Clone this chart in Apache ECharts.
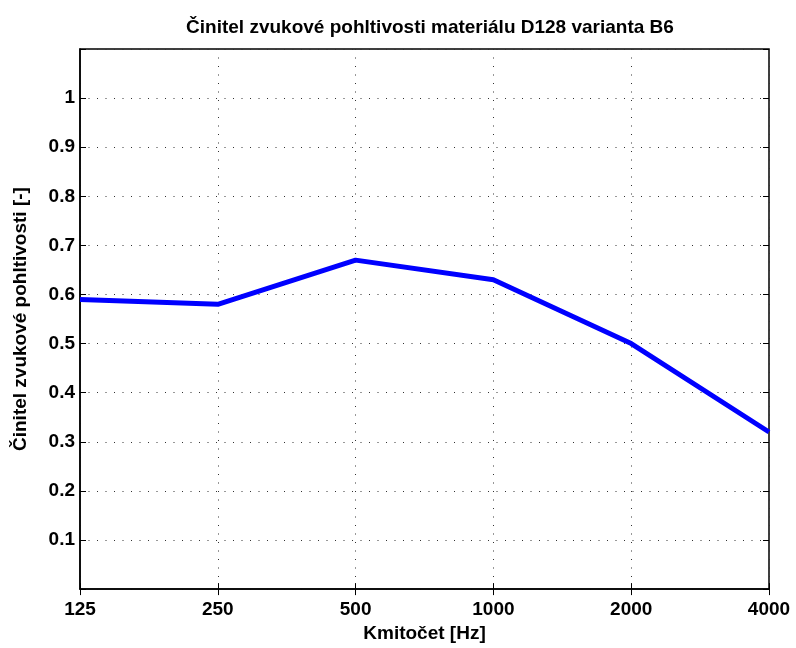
<!DOCTYPE html>
<html>
<head>
<meta charset="utf-8">
<script src="https://cdn.jsdelivr.net/npm/echarts@6/dist/echarts.min.js"></script>
<style>
  html, body { margin: 0; padding: 0; background: #fff; }
  #chart { width: 796px; height: 648px; }
</style>
</head>
<body>
<div id="chart"></div>
<script>
// Octave-band centre frequencies [Hz]
const frequencies = ['125', '250', '500', '1000', '2000', '4000'];
// Sound absorption coefficient per band
const absorption = [0.59, 0.58, 0.67, 0.63, 0.50, 0.32];

const FONT = '"Liberation Sans", Arial, sans-serif';
const dotted = { color: '#333', width: 1, type: [1, 7.5] };
const tickStyle = { color: '#000', width: 1 };

const chart = echarts.init(document.getElementById('chart'), null, { renderer: 'canvas' });

chart.setOption({
  animation: false,
  backgroundColor: '#fff',
  title: {
    text: 'Činitel zvukové pohltivosti materiálu D128 varianta B6',
    left: 425, top: 13, textAlign: 'center',
    textStyle: { fontFamily: FONT, fontSize: 19, fontWeight: 'bold', color: '#000' }
  },
  grid: {
    left: 80, right: 27, top: 49, bottom: 58,
    show: true, borderColor: '#000', borderWidth: 1.5, backgroundColor: 'transparent'
  },
  xAxis: [{
    type: 'category', data: frequencies, boundaryGap: false,
    name: 'Kmitočet [Hz]', nameLocation: 'middle', nameGap: 34,
    nameTextStyle: { fontFamily: FONT, fontSize: 19, fontWeight: 'bold', color: '#000' },
    axisLine: { lineStyle: { color: '#000', width: 1.5 } },
    axisTick: { inside: true, length: 6, lineStyle: tickStyle },
    axisLabel: { fontFamily: FONT, fontSize: 19, fontWeight: 'bold', color: '#000', margin: 11 },
    splitLine: { show: true, lineStyle: dotted }
  }, {
    type: 'category', data: frequencies, boundaryGap: false, position: 'top',
    axisLine: { show: false },
    axisTick: { inside: true, length: 6, lineStyle: tickStyle },
    axisLabel: { show: false }, splitLine: { show: false }
  }],
  yAxis: [{
    type: 'value', min: 0, max: 1.1, interval: 0.1,
    name: 'Činitel zvukové pohltivosti [-]', nameLocation: 'middle', nameGap: 50,
    nameTextStyle: { fontFamily: FONT, fontSize: 19, fontWeight: 'bold', color: '#000' },
    axisLine: { show: true, lineStyle: { color: '#000', width: 1.5 } },
    axisTick: { show: true, inside: true, length: 6, lineStyle: tickStyle },
    axisLabel: {
      fontFamily: FONT, fontSize: 19, fontWeight: 'bold', color: '#000', margin: 5,
      formatter: v => {
        const r = Math.round(v * 10) / 10;
        if (r <= 0 || r > 1) return '';
        return String(r);
      }
    },
    splitLine: { show: true, lineStyle: dotted }
  }, {
    type: 'value', min: 0, max: 1.1, interval: 0.1, position: 'right',
    axisLine: { show: false },
    axisTick: { show: true, inside: true, length: 6, lineStyle: tickStyle },
    axisLabel: { show: false }, splitLine: { show: false }
  }],
  series: [{
    type: 'line', data: absorption, xAxisIndex: 0, yAxisIndex: 0,
    symbol: 'none', lineStyle: { color: '#0000ff', width: 5 },
    clip: true
  }]
});
</script>
</body>
</html>
